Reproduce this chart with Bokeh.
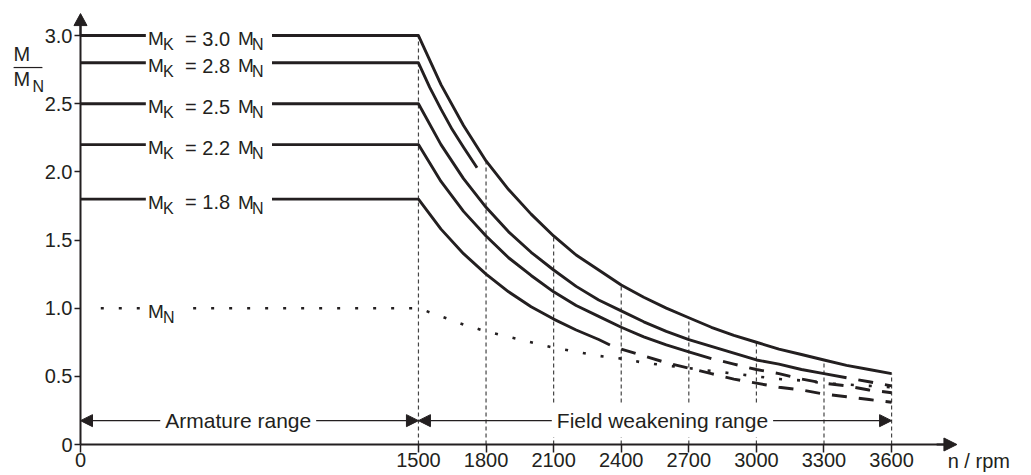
from bokeh.plotting import figure
from bokeh.models import Range1d, FixedTicker, Label, Arrow, NormalHead, NumeralTickFormatter
from bokeh.core.properties import value
from bokeh.embed import file_html
from bokeh.resources import INLINE

# ---------------- data ----------------
x_ticks = [0, 1500, 1800, 2100, 2400, 2700, 3000, 3300, 3600]
y_ticks = [0, 0.5, 1.0, 1.5, 2.0, 2.5, 3.0]

mk_levels = [3.0, 2.8, 2.5, 2.2, 1.8]
mk_names = ["3.0", "2.8", "2.5", "2.2", "1.8"]

# M_K = 3.0 M_N : solid all the way
n_30 = [1500, 1600, 1700, 1800, 1900, 2000, 2100, 2200, 2300, 2400, 2500,
        2600, 2700, 2800, 2900, 3000, 3100, 3200, 3300, 3400, 3500, 3600]
m_30 = [3.00, 2.64, 2.34, 2.08, 1.87, 1.69, 1.53, 1.39, 1.28, 1.17, 1.08,
        1.00, 0.93, 0.86, 0.80, 0.75, 0.70, 0.66, 0.62, 0.58, 0.55, 0.52]

# M_K = 2.8 M_N : short solid curve
n_28 = [1500, 1550, 1600, 1650, 1700, 1760]
m_28 = [2.80, 2.62, 2.46, 2.31, 2.18, 2.03]

# M_K = 2.5 M_N : solid, then dashed
n_25_solid = [1500, 1600, 1700, 1800, 1900, 2000, 2100, 2200, 2300, 2400, 2500,
              2600, 2700, 2800, 2900, 3000, 3100, 3200, 3300, 3400]
m_25_solid = [2.50, 2.20, 1.95, 1.74, 1.56, 1.41, 1.28, 1.16, 1.06, 0.98, 0.90,
              0.83, 0.77, 0.72, 0.67, 0.62, 0.59, 0.55, 0.52, 0.49]
n_25_dash = [3400, 3500, 3600]
m_25_dash = [0.49, 0.46, 0.43]

# M_K = 2.2 M_N
n_22_solid = [1500, 1600, 1700, 1800, 1900, 2000, 2100, 2200, 2300, 2400, 2500,
              2600, 2700, 2800]
m_22_solid = [2.20, 1.93, 1.71, 1.53, 1.37, 1.24, 1.12, 1.02, 0.94, 0.86, 0.79,
              0.73, 0.68, 0.63]
n_22_dash = [2800, 2900, 3000, 3100, 3200, 3300, 3400, 3500, 3600]
m_22_dash = [0.63, 0.59, 0.55, 0.52, 0.48, 0.45, 0.43, 0.40, 0.38]

# M_K = 1.8 M_N
n_18_solid = [1500, 1600, 1700, 1800, 1900, 2000, 2100, 2200, 2300, 2350]
m_18_solid = [1.80, 1.58, 1.40, 1.25, 1.12, 1.01, 0.92, 0.84, 0.77, 0.73]
n_18_dash = [2350, 2400, 2500, 2600, 2700, 2800, 2900, 3000, 3100, 3200, 3300,
             3400, 3500, 3600]
m_18_dash = [0.73, 0.70, 0.65, 0.60, 0.56, 0.52, 0.48, 0.45, 0.42, 0.40, 0.37,
             0.35, 0.33, 0.31]

# rated torque M_N (dotted)
n_mn = [1500, 1600, 1700, 1800, 1900, 2000, 2100, 2200, 2300, 2400, 2500,
        2600, 2700, 2800, 2900, 3000, 3100, 3200, 3300, 3400, 3500, 3600]
m_mn = [1.00, 0.94, 0.88, 0.83, 0.79, 0.75, 0.71, 0.68, 0.65, 0.63, 0.60,
        0.58, 0.56, 0.54, 0.52, 0.50, 0.48, 0.47, 0.45, 0.44, 0.43, 0.42]

# ranges (arrows under the curves)
range_names = ["Armature range", "Field weakening range"]
range_start = [0, 1500]
range_end = [1500, 3600]
range_text_x = [700, 2583]

# ---------------- layout / style constants ----------------
INK = "#231f20"
FONT = "Liberation Sans"
GAP_L, GAP_R = 290, 850          # gap in the horizontal lines for the labels (rpm)
ARROW_Y = 0.175
X_TIP, Y_TIP = 3890, 3.161
PX_X = 0.22528                   # px per rpm
PX_Y = 136.33                    # px per unit of M/MN

p = figure(width=1031, height=475,
           x_range=Range1d(0, 4221), y_range=Range1d(0, 3.257),
           output_backend="svg", toolbar_location=None,
           min_border_left=80, min_border_right=0,
           min_border_top=0, min_border_bottom=31)
p.outline_line_color = None
p.xgrid.visible = False
p.ygrid.visible = False
p.background_fill_color = "white"
p.border_fill_color = "white"

xa = p.xaxis[0]
xa.ticker = FixedTicker(ticks=x_ticks)
xa.bounds = (0, 3840)
xa.axis_line_color = INK
xa.axis_line_width = 2
xa.major_tick_out = 8
xa.major_tick_in = 0
xa.minor_tick_out = 0
xa.minor_tick_in = 0
xa.major_tick_line_color = INK
xa.major_tick_line_width = 1.5
xa.major_label_standoff = 0
xa.major_label_text_font = FONT
xa.major_label_text_font_size = "20px"
xa.major_label_text_color = INK

ya = p.yaxis[0]
ya.ticker = FixedTicker(ticks=y_ticks)
ya.formatter = NumeralTickFormatter(format="0.0")
ya.major_label_overrides = {0: "0"}
ya.bounds = (0, 3.08)
ya.axis_line_color = INK
ya.axis_line_width = 2
ya.major_tick_out = 6
ya.major_tick_in = 0
ya.minor_tick_out = 0
ya.minor_tick_in = 0
ya.major_tick_line_color = INK
ya.major_tick_line_width = 1.5
ya.major_label_standoff = 2
ya.major_label_text_font = FONT
ya.major_label_text_font_size = "20px"
ya.major_label_text_color = INK

# vertical dashed guide lines, up to the M_K = 3.0 curve
grid_rpm = x_ticks[1:]
grid_top = [m_30[n_30.index(n)] for n in grid_rpm]
p.segment(x0=grid_rpm, y0=[0] * len(grid_rpm), x1=grid_rpm, y1=grid_top,
          line_color="#444444", line_width=1.2, line_dash="4 3")

# pull-out torque curves
solid = dict(line_color=INK, line_width=2.9, line_join="round")
dashed = dict(line_color=INK, line_width=2.9, line_dash="15 12", line_dash_offset=15)

curves_solid = [(n_30, m_30), (n_28, m_28), (n_25_solid, m_25_solid),
                (n_22_solid, m_22_solid), (n_18_solid, m_18_solid)]
for mk, (ns, ms) in zip(mk_levels, curves_solid):
    p.line([0, GAP_L], [mk, mk], **solid)
    p.line([GAP_R] + ns, [mk] + ms, **solid)

for ns, ms in [(n_25_dash, m_25_dash), (n_22_dash, m_22_dash), (n_18_dash, m_18_dash)]:
    p.line(ns, ms, **dashed)

# rated torque, dotted
dotted = dict(line_color=INK, line_width=2.6, line_dash="3 15", line_cap="butt")
p.line([90, GAP_L], [m_mn[0], m_mn[0]], **dotted)
p.line([500] + n_mn, [m_mn[0]] + m_mn, **dotted)


def txt(x, y, s, dx, dy, size="19px", align="left", baseline="alphabetic"):
    """Text as an overlay glyph (not clipped to the frame); dy is pixels downward."""
    r = p.text(x=[x], y=[y], text=[s], x_offset=dx, y_offset=dy,
               text_font=value(FONT), text_font_size=value(size), text_color=INK,
               text_align=align, text_baseline=baseline)
    r.level = "overlay"


LX = 300  # label anchor (rpm)
for mk, name in zip(mk_levels, mk_names):
    txt(LX, mk, "M", 0, 3)
    txt(LX, mk, "K", 15, 9, "16px")
    txt(LX, mk, "= " + name, 37, 3, "20px")
    txt(LX, mk, "M", 90, 3)
    txt(LX, mk, "N", 104, 9, "16px")

txt(LX, m_mn[0], "M", 0, 3)
txt(LX, m_mn[0], "N", 15, 9, "16px")

# y-axis label M / M_N
txt(0, 3.0, "M", -67, 18, "20px")
txt(0, 3.0, "M", -67, 43, "20px")
txt(0, 3.0, "N", -48, 51, "16px")
frac = p.segment(x0=[-297], y0=[3.0 - 32 / PX_Y], x1=[-169], y1=[3.0 - 32 / PX_Y],
                 line_color=INK, line_width=1.2)
frac.level = "overlay"

# x-axis label, same baseline as the tick labels
txt(3849, 0, "n / rpm", 0, 16, "20px")

# axis arrow heads (overlay patches, so they are not clipped by the frame)
hy = p.patch(x=[-6.5 / PX_X, 6.5 / PX_X, 0], y=[Y_TIP - 12 / PX_Y, Y_TIP - 12 / PX_Y, Y_TIP],
             fill_color=INK, line_color=INK, line_width=1)
hy.level = "overlay"
hx = p.patch(x=[X_TIP - 13 / PX_X, X_TIP - 13 / PX_X, X_TIP], y=[-6.5 / PX_Y, 6.5 / PX_Y, 0],
             fill_color=INK, line_color=INK, line_width=1)
hx.level = "overlay"
ax = p.segment(x0=[0, 3800], y0=[3.0, 0], x1=[0, X_TIP - 12 / PX_X], y1=[Y_TIP - 11 / PX_Y, 0],
               line_color=INK, line_width=2)
ax.level = "overlay"


def head(size=12):
    return NormalHead(size=size, fill_color=INK, line_color=INK, line_width=1)


# range arrows with labels
for name, xs, xe, tx in zip(range_names, range_start, range_end, range_text_x):
    p.add_layout(Arrow(x_start=xs, y_start=ARROW_Y, x_end=xe, y_end=ARROW_Y,
                       line_color=INK, line_width=1.2,
                       start=head(12), end=head(12)))
    p.add_layout(Label(x=tx, y=ARROW_Y, text=name, text_align="center",
                       text_baseline="middle", text_font=FONT,
                       text_font_size="21px", text_color=INK,
                       background_fill_color="white", padding=5))

open("out.html", "w").write(file_html(p, INLINE))
